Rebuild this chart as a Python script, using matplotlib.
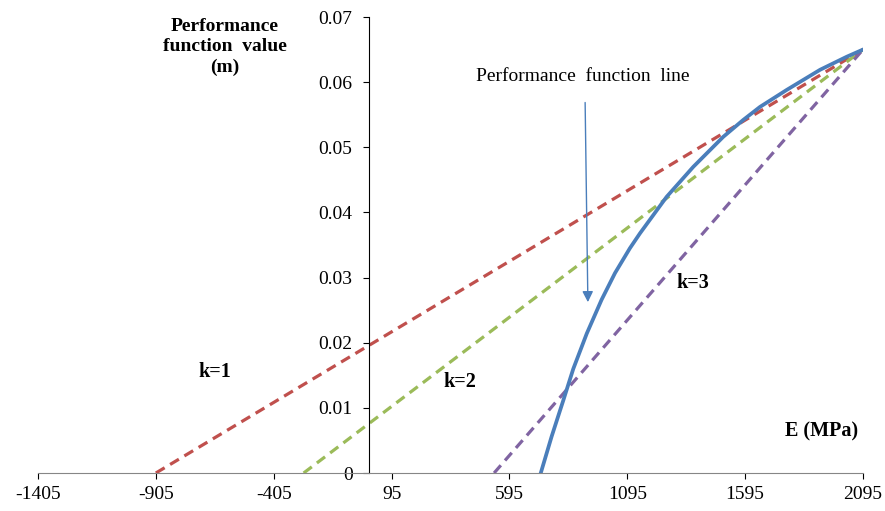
import matplotlib.pyplot as plt

plt.rcParams["font.family"] = ["Liberation Serif", "DejaVu Serif"]

# Performance function curve
E_curve = [728, 774, 824, 866, 923, 986, 1043, 1106, 1149, 1262, 1375,
           1502, 1587, 1658, 1771, 1913, 2026, 2095]
g_curve = [0.0, 0.0056, 0.0112, 0.0160, 0.0214, 0.0266, 0.0307, 0.0345, 0.0368,
           0.0424, 0.0470, 0.0516, 0.0542, 0.0562, 0.0588, 0.0619, 0.0639, 0.065]

# straight lines k=1,2,3 (start, end)
k1_E = [-905, 2095]
k1_g = [0.0, 0.065]
k2_E = [-278, 2095]
k2_g = [0.0, 0.065]
k3_E = [530, 2095]
k3_g = [0.0, 0.065]

x_ticks = [-1405, -905, -405, 95, 595, 1095, 1595, 2095]
y_ticks = [0, 0.01, 0.02, 0.03, 0.04, 0.05, 0.06, 0.07]
y_labels = ["0", "0.01", "0.02", "0.03", "0.04", "0.05", "0.06", "0.07"]

fig = plt.figure(figsize=(8.85, 5.11), dpi=100)
ax = fig.add_axes([38 / 885, 38 / 511, 825 / 885, 456 / 511])

ax.plot(k1_E, k1_g, color="#C0504D", lw=2.3, ls=(0, (3.2, 2.0)))
ax.plot(k2_E, k2_g, color="#9BBB59", lw=2.3, ls=(0, (3.2, 2.0)))
ax.plot(k3_E, k3_g, color="#8064A2", lw=2.3, ls=(0, (3.2, 2.0)))
ax.plot(E_curve, g_curve, color="#4A7EBB", lw=2.7, solid_joinstyle="round")

ax.set_xlim(-1405, 2095)
ax.set_ylim(0, 0.07)
ax.set_xticks(x_ticks)
ax.set_xticklabels([str(v) for v in x_ticks])
ax.set_yticks(y_ticks)
ax.set_yticklabels(y_labels)

# axes cross at the origin like the Excel chart
ax.spines["left"].set_position(("data", 0))
ax.spines["bottom"].set_position(("data", 0))
ax.spines["top"].set_visible(False)
ax.spines["right"].set_visible(False)
ax.spines["left"].set_color("black")
ax.spines["bottom"].set_color("#868686")
ax.tick_params(axis="x", direction="out", length=4.5, color="black", pad=5, labelsize=14)
ax.tick_params(axis="y", direction="out", length=4, color="black", pad=8, labelsize=14)

# text labels
ax.text(-612, 0.0654, "Performance\nfunction  value\n(m)", ha="center", va="center",
        fontsize=14, fontweight="bold", linespacing=1.25)
ax.text(1921, 0.0063, "E (MPa)", ha="center", va="center", fontsize=14.5, fontweight="bold")
ax.text(-654, 0.0155, "k=1", ha="center", va="center", fontsize=14.5, fontweight="bold")
ax.text(385, 0.0140, "k=2", ha="center", va="center", fontsize=14.5, fontweight="bold")
ax.text(1374, 0.0292, "k=3", ha="center", va="center", fontsize=14.5, fontweight="bold")

ax.annotate("", xy=(928, 0.0258), xytext=(916, 0.0573),
            arrowprops=dict(arrowstyle="-|>", color="#4A7EBB", lw=1.0, mutation_scale=16))
ax.text(907, 0.0608, "Performance  function  line", ha="center", va="center", fontsize=14)

fig.savefig("out.png", dpi=100)
